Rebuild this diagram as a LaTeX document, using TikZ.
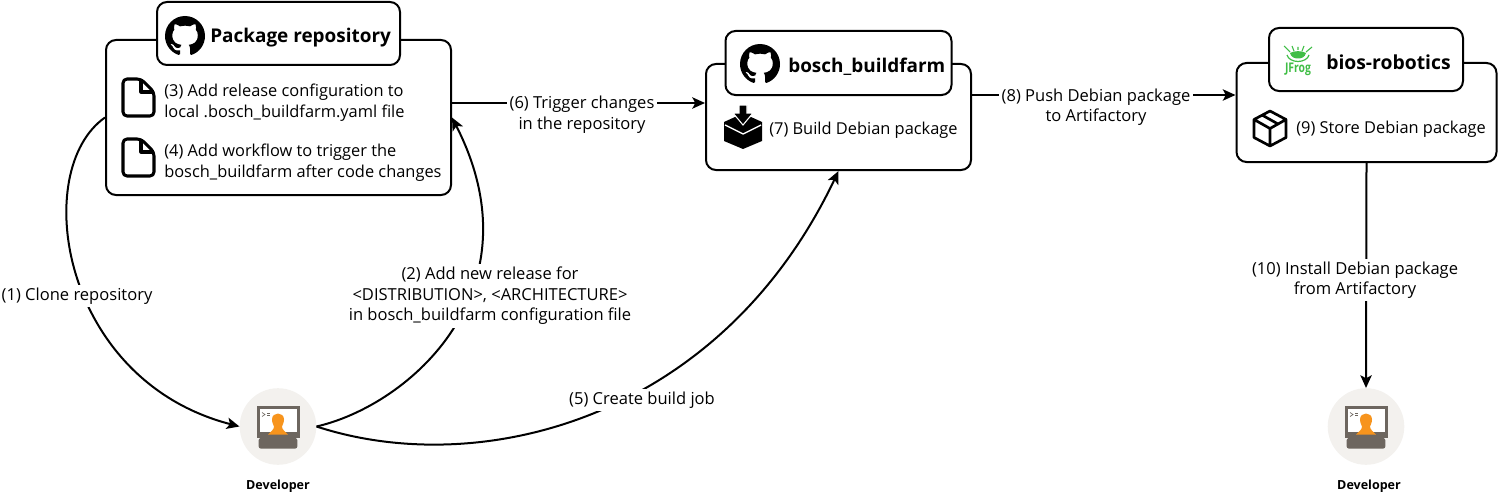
\documentclass[tikz,border=0pt]{standalone}
\usepackage{fontspec}
\setmainfont{Open Sans}
\usetikzlibrary{arrows.meta,svg.path,calc}
\definecolor{devbg}{HTML}{F3F1EE}
\definecolor{devgr}{HTML}{6D665F}
\definecolor{devor}{HTML}{F7941D}
\definecolor{jf}{HTML}{40BE46}
\tikzset{
 x=0.75pt,y=-0.75pt,
 panel/.style={draw=black,line width=1.5pt,rounded corners=7.5pt,fill=white,inner sep=0,minimum width=#1},
 lbl/.style={font=\fontsize{12.4pt}{15.4pt}\selectfont,align=center,inner sep=2pt,fill=white},
 inlbl/.style={font=\fontsize{12.3pt}{15.8pt}\selectfont,align=left,anchor=west,inner sep=0},
 hd/.style={font=\fontsize{14.2pt}{17pt}\selectfont\bfseries,anchor=west,inner sep=0},
 conn/.style={draw=black,line width=1.5pt,-{Stealth[length=9.5pt,width=8.5pt,inset=2.2pt]}},
 devtxt/.style={font=\fontsize{9.4pt}{10pt}\selectfont\bfseries,inner sep=0},
 devshape/.style={circle,minimum size=57.4pt,inner sep=0},
}
\newcommand{\ghicon}[2]{%
 \begin{scope}[shift={(#1,#2)},cm={1.875,0,0,-1.875,(0,0)}]
 \fill[black] (0,0) svg {M 8 0 C 3.58 0 0 3.58 0 8 c 0 3.54 2.29 6.53 5.47 7.59 c 0.4 0.07 0.55 -0.17 0.55 -0.38 c 0 -0.19 -0.01 -0.82 -0.01 -1.49 c -2.01 0.37 -2.53 -0.49 -2.69 -0.94 c -0.09 -0.23 -0.48 -0.94 -0.82 -1.13 c -0.28 -0.15 -0.68 -0.52 -0.01 -0.53 c 0.63 -0.01 1.08 0.58 1.23 0.82 c 0.72 1.21 1.87 0.87 2.33 0.66 c 0.07 -0.52 0.28 -0.87 0.51 -1.07 c -1.78 -0.2 -3.64 -0.89 -3.64 -3.95 c 0 -0.87 0.31 -1.59 0.82 -2.15 c -0.08 -0.2 -0.36 -1.02 0.08 -2.12 c 0 0 0.67 -0.21 2.2 0.82 c 0.64 -0.18 1.32 -0.27 2 -0.27 c 0.68 0 1.36 0.09 2 0.27 c 1.53 -1.04 2.2 -0.82 2.2 -0.82 c 0.44 1.1 0.16 1.92 0.08 2.12 c 0.51 0.56 0.82 1.27 0.82 2.15 c 0 3.07 -1.87 3.75 -3.65 3.95 c 0.29 0.25 0.54 0.73 0.54 1.48 c 0 1.07 -0.01 1.93 -0.01 2.2 c 0 0.21 0.15 0.46 0.55 0.38 C 13.71 14.53 16 11.54 16 8 c 0 -4.42 -3.58 -8 -8 -8 z};
 \end{scope}}
\newcommand{\fileicon}[2]{%
 \begin{scope}[shift={(#1,#2)}]
 \draw[line width=2.3pt,line join=round,rounded corners=3pt,fill=white] (0,0) -- (18,0) -- (31,13) -- (31,37) -- (0,37) -- cycle;
 \draw[line width=2.3pt,line join=round] (18,0) -- (18,13) -- (31,13);
 \end{scope}}
\newcommand{\devicon}[2]{%
 \begin{scope}[shift={(#1,#2)}]
 \fill[devbg] (0,0) circle (38.3);
 \fill[devgr] (-21.5,-21) rectangle (21.5,11);
 \fill[white] (-18.5,-18) rectangle (18.5,5.5);
 \draw[devgr,line width=.5pt] (-16,-14) -- (-13,-12) -- (-16,-10);
 \draw[devgr,line width=.4pt] (-11,-13) -- (-8,-13) (-11,-11.5) -- (-8,-11.5);
 \fill[devgr,rounded corners=1.5pt] (-19.3,22) -- (-19.3,11.5) -- (-10,8) -- (10,8) -- (19.3,11.5) -- (19.3,22) -- cycle;
 \fill[devor] (-6,-7) .. controls (-6,-15) and (6,-15) .. (6,-7) .. controls (6,-3) and (4,-1) .. (4,0) .. controls (4,3) and (7,5) .. (10,8) -- (-10,8) .. controls (-7,5) and (-4,3) .. (-4,0) .. controls (-4,-1) and (-6,-3) .. (-6,-7) -- cycle;
 \end{scope}}
\begin{document}
\begin{tikzpicture}
\useasboundingbox (0,0) rectangle (1498,492);
% panels
\node[panel=345*0.75pt,minimum height=155*0.75pt] (pkg) at (278.5,117.5) {};
\node[panel=243*0.75pt,minimum height=63*0.75pt] (pkgh) at (278.5,33.5) {};
\node[panel=265*0.75pt,minimum height=106*0.75pt] (bf) at (838.5,117) {};
\node[panel=226*0.75pt,minimum height=64*0.75pt] (bfh) at (838.5,63) {};
\node[panel=260*0.75pt,minimum height=99*0.75pt] (art) at (1366.5,112.5) {};
\node[panel=194*0.75pt,minimum height=63*0.75pt] (arth) at (1366,59.5) {};
% headers
\ghicon{165}{16}
\node[hd] (t1) at (210,38) {Package repository};
\ghicon{740}{44}
\node[hd] (t2) at (788,67) {bosch\_buildfarm};
\node[hd,font=\fontsize{14.5pt}{17pt}\selectfont\bfseries] (t3) at (1326,62) {bios-robotics};
% JFrog logo
\begin{scope}[shift={(1298,60)},jf]
 \fill (-8,-7) .. controls (-4,-9.5) and (4,-9.5) .. (8,-7) .. controls (7,-2.5) and (3,-1.5) .. (0,-1.5) .. controls (-3,-1.5) and (-7,-2.5) .. (-8,-7) -- cycle;
 \draw[line width=.9pt] (-11,-5) .. controls (-10,-1) and (-5,1.5) .. (0,1.5) .. controls (5,1.5) and (10,-1) .. (11,-5);
 \draw[line width=.8pt] (-14,-14) -- (-8,-8) (14,-13) -- (8,-8) (-6,-14) -- (-4,-9) (6,-14) -- (4,-9) (0,-13) -- (0,-10);
 \node[font=\fontsize{10pt}{10pt}\selectfont\bfseries,inner sep=0,text=jf,xscale=.78] (jflogo) at (0,9.5) {JFrog};
\end{scope}
% items
\fileicon{123}{79}
\node[inlbl] (s3) at (164,103) {(3) Add release configuration to\\local .bosch\_buildfarm.yaml file};
\fileicon{123}{139}
\node[inlbl] (s4) at (164,163) {(4) Add workflow to trigger the\\bosch\_buildfarm after code changes};
\fill (724,122) -- (735,117) -- (743,121) -- (751,117) -- (762,122) -- (762,141) -- (743,149) -- (724,141) -- cycle;
\draw[white,line width=1pt] (725,125) -- (743,134) -- (761,125);
\fill[draw=white,line width=.8pt] (739,105) -- (747,105) -- (747,113) -- (753,113) -- (743,125) -- (733,113) -- (739,113) -- cycle;
\node[inlbl] (s7) at (769,130.5) {(7) Build Debian package};
\begin{scope}[shift={(1270,128.5)}]
 \draw[line width=2pt,line join=round] (0,-17.5) -- (16,-9) -- (16,9) -- (0,17.5) -- (-16,9) -- (-16,-9) -- cycle (-16,-9) -- (0,0) -- (16,-9) (0,0) -- (0,17.5) (-8,-13.5) -- (8,-4.5);
\end{scope}
\node[inlbl] (s9) at (1296,129.5) {(9) Store Debian package};
% developers
\devicon{278}{426.5}
\node[devshape] (dev1) at (278,426.5) {};
\node[devtxt] (dl1) at (278,486) {Developer};
\devicon{1366}{426.5}
\node[devshape] (dev2) at (1366,426.5) {};
\node[devtxt] (dl2) at (1369,486) {Developer};
% connectors
\draw[conn] (pkg.west) .. controls (30,170) and (60,380) .. (dev1.west);
\draw[conn] (dev1.east) .. controls (410,405) and (540,290) .. (pkg.east);
\draw[conn] (dev1.east) .. controls (480,480) and (720,420) .. (bf.south);
\draw[conn] ([yshift=14.5*0.75pt]pkg.east) -- (bf.west |- 0,103);
\draw[conn] (bf.east |- 0,95) -- (art.west |- 0,95);
\draw[conn] (art.south) -- (dev2.north);
% connector labels
\node[lbl] (l1) at (77,296) {(1) Clone repository};
\node[lbl] (l2) at (490,296) {(2) Add new release for\\<DISTRIBUTION>, <ARCHITECTURE>\\in bosch\_buildfarm configuration file};
\node[lbl] (l5) at (642,400) {(5) Create build job};
\node[lbl] (l6) at (582,114.5) {(6) Trigger changes\\in the repository};
\node[lbl] (l8) at (1096,107) {(8) Push Debian package\\to Artifactory};
\node[lbl] (l10) at (1355,280) {(10) Install Debian package\\from Artifactory};
\end{tikzpicture}
\end{document}
